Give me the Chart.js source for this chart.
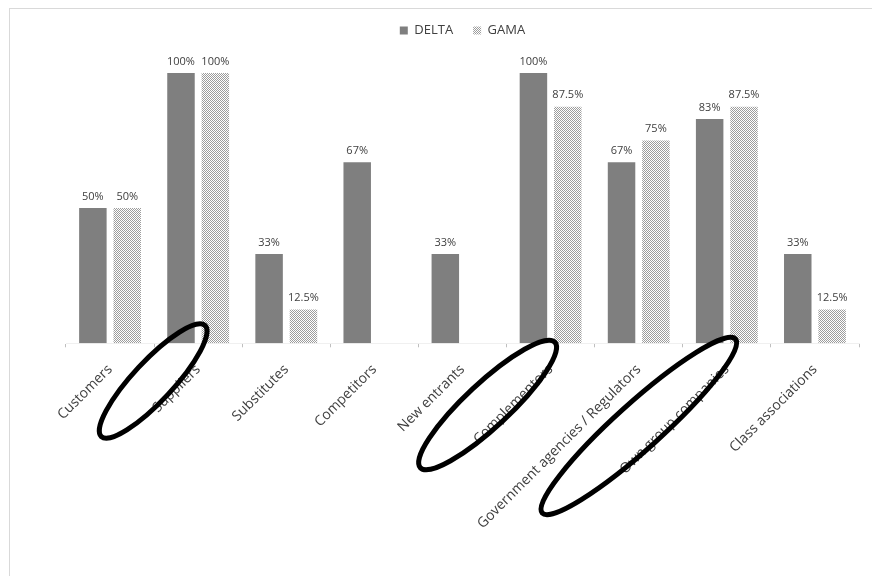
<!DOCTYPE html>
<html>
<head>
<meta charset="utf-8">
<script src="https://cdn.jsdelivr.net/npm/chart.js@4"></script>
<style>
  html, body { margin: 0; padding: 0; background: #fff; }
  #wrap { width: 872px; height: 576px; position: relative; }
</style>
</head>
<body>
<div id="wrap"><canvas id="chart" width="872" height="576"></canvas></div>
<script>
// Data
const categories = [
  "Customers", "Suppliers", "Substitutes", "Competitors", "New entrants",
  "Complementors", "Government agencies / Regulators", "Own group companies", "Class associations"
];
const deltaValues = [50, 100, 33, 67, 33, 100, 67, 83, 33];
const gamaValues = [50, 100, 12.5, 0, 0, 87.5, 75, 87.5, 12.5];
// categories circled by hand on the original
const circled = ["Suppliers", "Complementors", "Own group companies"];

const FONT = "'Open Sans', 'DejaVu Sans', sans-serif";

// fine dotted fill used for GAMA
function dotPattern() {
  const c = document.createElement("canvas");
  c.width = 2;
  c.height = 2;
  const g = c.getContext("2d");
  g.fillStyle = "#ffffff";
  g.fillRect(0, 0, 2, 2);
  g.fillStyle = "#9c9c9c";
  g.fillRect(0, 0, 1, 1);
  g.fillRect(1, 1, 1, 1);
  return g.createPattern(c, "repeat");
}

const ctx = document.getElementById("chart").getContext("2d");
const gamaFill = dotPattern();

// light frame around the whole chart
const framePlugin = {
  id: "frame",
  beforeDraw(chart) {
    const c = chart.ctx;
    c.save();
    c.strokeStyle = "#d9d9d9";
    c.lineWidth = 1;
    c.strokeRect(9.5, 8.5, 900, 600);
    c.restore();
  }
};

// value labels above each bar
const valueLabels = {
  id: "valueLabels",
  afterDatasetsDraw(chart) {
    const c = chart.ctx;
    c.save();
    c.font = "11px " + FONT;
    c.fillStyle = "#404040";
    c.textAlign = "center";
    c.textBaseline = "bottom";
    chart.data.datasets.forEach((ds, i) => {
      chart.getDatasetMeta(i).data.forEach((bar, j) => {
        const v = ds.data[j];
        if (!v) return;
        c.fillText(v + "%", bar.x, bar.y - 6);
      });
    });
    c.restore();
  }
};

// black hand-drawn ovals around some category labels
const ovals = {
  id: "ovals",
  afterDraw(chart) {
    const x = chart.scales.x;
    const c = chart.ctx;
    const shape = {
      "Suppliers": { dx: -45, y: 381, rx: 76, ry: 20, rot: -47 },
      "Complementors": { dx: -63, y: 405, rx: 92, ry: 22, rot: -43 },
      "Own group companies": { dx: -88, y: 426, rx: 130, ry: 23, rot: -42 }
    };
    c.save();
    c.strokeStyle = "#000";
    c.lineWidth = 5;
    circled.forEach(name => {
      const s = shape[name];
      const cx = x.getPixelForValue(categories.indexOf(name)) + s.dx;
      c.beginPath();
      c.ellipse(cx, s.y, s.rx, s.ry, s.rot * Math.PI / 180, 0, Math.PI * 2);
      c.stroke();
    });
    c.restore();
  }
};

new Chart(ctx, {
  type: "bar",
  data: {
    labels: categories,
    datasets: [
      { label: "DELTA", data: deltaValues, backgroundColor: "#7f7f7f", barPercentage: 0.8, categoryPercentage: 0.78 },
      { label: "GAMA", data: gamaValues, backgroundColor: gamaFill, barPercentage: 0.8, categoryPercentage: 0.78 }
    ]
  },
  options: {
    responsive: false,
    animation: false,
    layout: { padding: { left: 66, right: 13, top: 4, bottom: 30 } },
    plugins: {
      legend: {
        position: "top",
        labels: {
          boxWidth: 8,
          boxHeight: 8,
          padding: 20,
          color: "#404040",
          font: { family: FONT, size: 13 }
        }
      },
      tooltip: { enabled: false }
    },
    scales: {
      x: {
        grid: { display: true, drawOnChartArea: false, color: "#bfbfbf", tickLength: 4 },
        border: { display: true, color: "#f0f0f0" },
        ticks: {
          color: "#404040",
          font: { family: FONT, size: 14 },
          minRotation: 45,
          maxRotation: 45,
          autoSkip: false,
          padding: 14
        }
      },
      y: {
        display: false,
        min: 0,
        max: 109.6
      }
    }
  },
  plugins: [framePlugin, valueLabels, ovals]
});
</script>
</body>
</html>
